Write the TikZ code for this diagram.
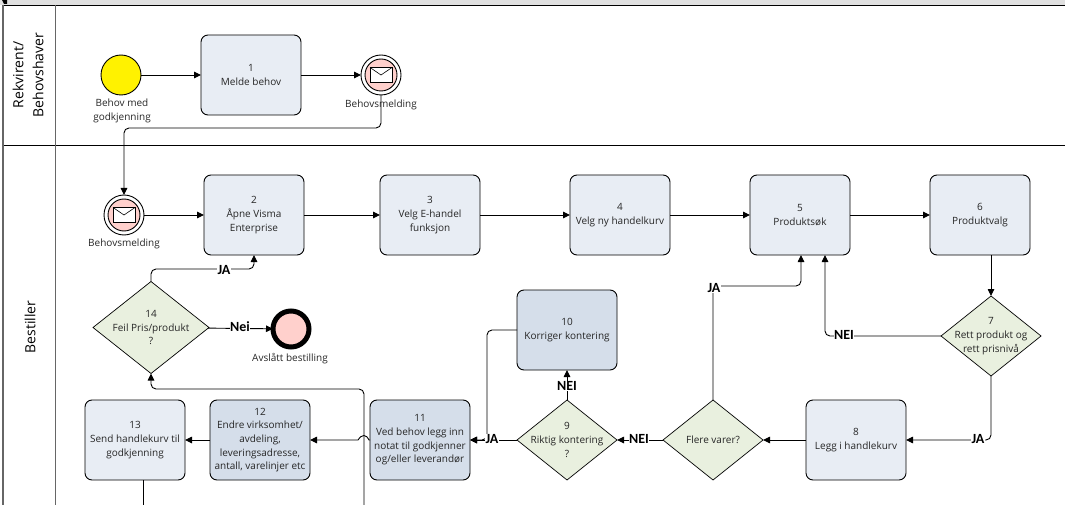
\documentclass[tikz,border=0pt]{standalone}
\usepackage{fontspec}
\setmainfont{Open Sans}
\newfontfamily\labelfont{Carlito}
\usetikzlibrary{arrows.meta,shapes.geometric}

\begin{document}
\begin{tikzpicture}[x=1pt,y=-1pt,>={Triangle[length=7pt,width=6.5pt]},
  flow/.style={draw=black,line width=0.9pt,rounded corners=5pt},
  tasknode/.style={draw=black,line width=0.9pt,rounded corners=7pt,fill=tasklight,minimum width=100pt,minimum height=80pt,inner sep=1pt,outer sep=0pt,align=center,font=\fontsize{10}{13.7}\selectfont,text=black!85},
  taskdark/.style={tasknode,fill=taskdeep},
  gatenode/.style={draw=black,line width=0.7pt,diamond,fill=gatefill,minimum width=100pt,minimum height=80pt,inner sep=0pt,outer sep=0pt},
  gatetext/.style={align=center,font=\fontsize{10}{13.7}\selectfont,text=black!85},
  evcircle/.style={draw=black,line width=0.9pt,circle,minimum size=40pt,inner sep=0pt,outer sep=0pt},
  evtext/.style={align=center,font=\fontsize{10}{13.7}\selectfont,text=black!85},
  envelope/.style={draw=black,line width=0.9pt,fill=white,minimum width=22pt,minimum height=15pt,inner sep=0pt,outer sep=0pt},
  flowlabel/.style={fill=white,inner sep=0.5pt,font=\labelfont\fontsize{14}{14}\selectfont\bfseries},
  lanetext/.style={rotate=90,align=center,font=\fontsize{14}{20}\selectfont}]
  \definecolor{tasklight}{HTML}{E8EDF4}
  \definecolor{taskdeep}{HTML}{D5DEEA}
  \definecolor{gatefill}{HTML}{E9F0DF}
  \definecolor{evpink}{HTML}{FFD0CC}
  \definecolor{barfill}{HTML}{E0E0E0}
  \useasboundingbox (0,0) rectangle (1065,505);

  % lanes
  \fill[barfill] (0,0) rectangle (1065,5);
  \fill[black] (2,0) -- (7,0) -- (7,4) -- (4,4) -- cycle;
  \draw[line width=0.9pt] (3,5) -- (1065,5);
  \draw[line width=0.9pt] (3,145) -- (1065,145);
  \draw[black!60,line width=1.2pt] (3,5) -- (3,505);
  \draw[black!60,line width=1pt] (55,5) -- (55,505);
  \node[lanetext] (lane1) at (28,75) {Rekvirent/\\Behovshaver};
  \node[lanetext] (lane2) at (30,327) {Bestiller};

  % events
  \node[evcircle,fill=yellow] (start) at (121,75) {};
  \node[evtext] (startlbl) at (122,111) {Behov med\\godkjenning};
  \node[evcircle,fill=white] (msga) at (381,75) {};
  \node[evcircle,fill=evpink,minimum size=32pt] (msgain) at (381,75) {};
  \node[envelope] (enva) at (381,75) {};
  \draw[line width=0.6pt] (enva.north west) -- (enva.center) -- (enva.north east);
  \node[evcircle,fill=white] (msgb) at (124,215) {};
  \node[evcircle,fill=evpink,minimum size=32pt] (msgbin) at (124,215) {};
  \node[envelope] (envb) at (124,215) {};
  \draw[line width=0.6pt] (envb.north west) -- (envb.center) -- (envb.north east);
  \node[evcircle,fill=evpink,line width=5pt,minimum size=36pt] (stop) at (291,329) {};
  \node[evtext] (stoplbl) at (290,359) {Avslått bestilling};

  % tasks
  \node[tasknode] (t1) at (251,75) {1\\Melde behov};
  \node[tasknode] (t2) at (254,215) {2\\Åpne Visma\\Enterprise};
  \node[tasknode] (t3) at (430,215) {3\\Velg E-handel\\funksjon};
  \node[tasknode] (t4) at (620,215) {4\\Velg ny handelkurv};
  \node[tasknode] (t5) at (800,215) {5\\Produktsøk};
  \node[tasknode] (t6) at (980,215) {6\\Produktvalg};
  \node[tasknode] (t8) at (856,440) {8\\Legg i handlekurv};
  \node[taskdark] (t10) at (567,330) {10\\Korriger kontering};
  \node[taskdark] (t11) at (420,440) {11\\Ved behov legg inn\\notat til godkjenner\\og/eller leverandør};
  \node[taskdark] (t12) at (260,440) {12\\Endre virksomhet/\\avdeling,\\leveringsadresse,\\antall, varelinjer etc};
  \node[tasknode] (t13) at (135,440) {13\\Send handlekurv til\\godkjenning};

  % gateways
  \node[gatenode] (g7) at (991,336) {};
  \node[gatetext] (g7txt) at (991,336) {7\\Rett produkt og\\rett prisnivå};
  \node[gatenode] (gf) at (713,440) {};
  \node[gatetext] (gftxt) at (713,440) {Flere varer?};
  \node[gatenode] (g9) at (567,440) {};
  \node[gatetext] (g9txt) at (567,440) {9\\Riktig kontering\\?};
  \node[gatenode,minimum width=116pt,minimum height=92pt] (g14) at (151,327.5) {};
  \node[gatetext] (g14txt) at (151,327.5) {14\\Feil Pris/produkt\\?};

  % free ends at the page edge
  \coordinate (out13) at (143,505);
  \coordinate (in14) at (364,505);

  % connectors
  \draw[flow,->] (start) -- (t1);
  \draw[flow,->] (t1) -- (msga);
  \draw[flow,->] (msga.south) |- (124,128) -- (msgb.north);
  \draw[flow,->] (msgb) -- (t2);
  \draw[flow,->] (t2) -- (t3);
  \draw[flow,->] (t3) -- (t4);
  \draw[flow,->] (t4) -- (t5);
  \draw[flow,->] (t5) -- (t6);
  \draw[flow,->] (t6.south -| g7.north) -- (g7.north);
  \draw[flow,->] (g7.west) -| (825,255);
  \draw[flow,->] (g7.south) |- (t8.east);
  \draw[flow,->] (t8) -- (gf);
  \draw[flow,->] (gf) -- (g9);
  \draw[flow,->] (gf.north) |- (801,286) -- (801,255);
  \draw[flow,->] (g9) -- (t10);
  \draw[flow,->] (g9) -- (t11);
  \draw[flow,->] (t10.west) -| (487,440) -- (t11.east);
  \draw[flow,rounded corners=0pt,->] (t11.west) -- (369,440) .. controls (366,434) and (362,434) .. (358,440) -- (t12.east);
  \draw[flow,->] (t12) -- (t13);
  \draw[flow] (t13.south -| out13) -- (out13);
  \draw[flow,->] (in14) |- (151,389) -- (g14.south);
  \draw[flow,->] (g14.north) |- (254,269) -- (t2.south);
  \draw[flow,->] (g14) -- (stop);

  % connector labels
  \node[evtext] (msgalbl) at (381,105) {Behovsmelding};
  \node[evtext] (msgblbl) at (124,244) {Behovsmelding};
  \node[flowlabel] (lbl7n) at (844,335) {NEI};
  \node[flowlabel] (lbl7j) at (978,439) {JA};
  \node[flowlabel] (lblfn) at (639,439) {NEI};
  \node[flowlabel] (lblfj) at (714,288) {JA};
  \node[flowlabel] (lbl9n) at (567,386) {NEI};
  \node[flowlabel] (lbl9j) at (492,439) {JA};
  \node[flowlabel] (lbl14j) at (224,270) {JA};
  \node[flowlabel] (lbl14n) at (240,327) {Nei};
\end{tikzpicture}
\end{document}
